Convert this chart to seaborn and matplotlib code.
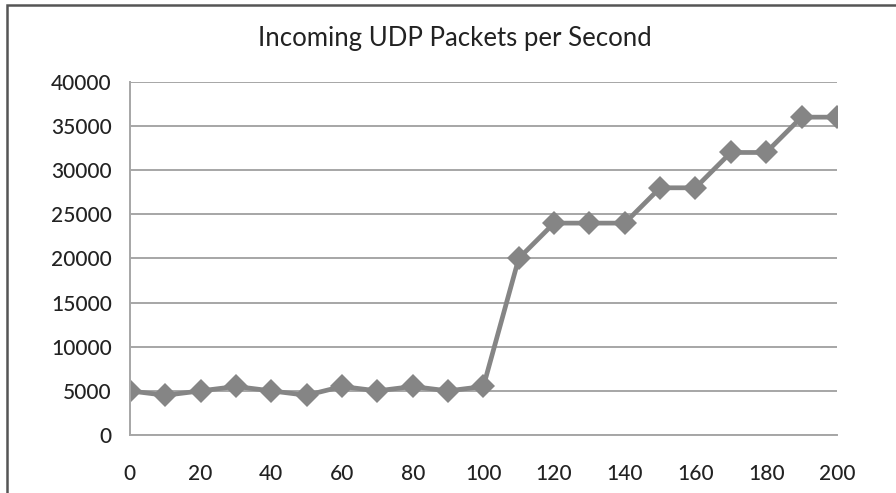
"""
Incoming UDP packets per second - line chart recreation.
"""

import matplotlib
matplotlib.use("Agg")
import matplotlib.pyplot as plt
from matplotlib.patches import Rectangle
import pandas as pd
import seaborn as sns

# data
seconds = [0, 10, 20, 30, 40, 50, 60, 70, 80, 90, 100,
           110, 120, 130, 140, 150, 160, 170, 180, 190, 200]
packets = [5000, 4500, 5000, 5500, 5000, 4500, 5500, 5000, 5500, 5000, 5500,
           20000, 24000, 24000, 24000, 28000, 28000, 32000, 32000, 36000, 36000]
x_ticks = list(range(0, 201, 20))
y_ticks = list(range(0, 40001, 5000))
title = "Incoming UDP Packets per Second"

GRID = "#a6a6a6"
LINE = "#858585"
TEXT = "#222222"

sns.set_style("white")
plt.rcParams["font.family"] = ["Lato", "DejaVu Sans"]

df = pd.DataFrame({"seconds": seconds, "packets": packets})

fig = plt.figure(figsize=(8.96, 4.93), dpi=100)
ax = fig.add_axes([0.145, 0.1176, 0.789, 0.7164])

ax.yaxis.grid(True, color=GRID, linewidth=1.4)
ax.set_axisbelow(True)

sns.lineplot(data=df, x="seconds", y="packets", ax=ax,
             color=LINE, linewidth=3.4, marker="D", markersize=12,
             markeredgewidth=0, markerfacecolor=LINE)

ax.set_xlim(0, 200)
ax.set_ylim(0, 40000)
ax.set_xticks(x_ticks)
ax.set_yticks(y_ticks)
ax.set_xlabel("")
ax.set_ylabel("")

for side in ("top", "right"):
    ax.spines[side].set_visible(False)
for side in ("left", "bottom"):
    ax.spines[side].set_color(GRID)
    ax.spines[side].set_linewidth(1.4)

ax.tick_params(axis="both", direction="out", color=GRID, width=1.4,
               length=6, labelsize=15, labelcolor=TEXT)
ax.tick_params(axis="x", pad=15)
ax.tick_params(axis="y", pad=7)
for lbl in ax.get_xticklabels() + ax.get_yticklabels():
    lbl.set_clip_on(False)
    lbl.set_fontweight("medium")

fig.text(0.508, 0.922, title, ha="center", va="center",
         fontsize=18.5, color=TEXT)

# outer border (only left and top edges fall inside the image)
fig.add_artist(Rectangle((0.008, -0.05), 1.2, 1.04, transform=fig.transFigure,
                         fill=False, edgecolor="#555555", linewidth=1.8))

plt.savefig("out.png", dpi=100)
plt.close()
